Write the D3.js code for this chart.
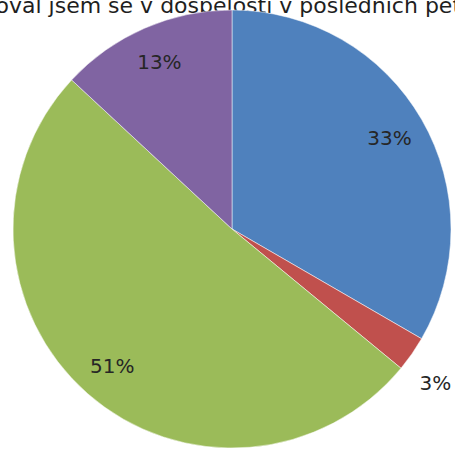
<!DOCTYPE html>
<html>
<head>
<meta charset="utf-8">
<script src="https://cdn.jsdelivr.net/npm/d3@7"></script>
<style>
  body { margin: 0; background: #fff; }
  svg { display: block; font-family: "DejaVu Sans", Verdana, sans-serif; }
</style>
</head>
<body>
<svg id="chart" width="455" height="450"></svg>
<script>
  // values (share of answers, %)
  var categories = ["Ano, opakovaně", "Ano, jednou", "Ne", "Nevím"];
  var values = [33.35, 2.62, 50.95, 13.08];
  var colors = ["#4F81BD", "#C0504D", "#9BBB59", "#8064A2"];
  var outsideLabel = [false, true, false, false];
  var title = "Školoval jsem se v dospělosti v posledních pěti letech";

  var width = 455, height = 450,
      cx = 232, cy = 229, radius = 219;

  var svg = d3.select("#chart");

  // title sits partly above the top edge, as in the source picture
  svg.append("text")
    .attr("x", cx + 14)
    .attr("y", 13)
    .attr("text-anchor", "middle")
    .attr("font-size", 22)
    .attr("fill", "#1f1f1f")
    .text(title);

  var data = categories.map(function(c, i) {
    return { name: c, value: values[i], color: colors[i], outside: outsideLabel[i] };
  });

  var pie = d3.pie()
    .sort(null)
    .value(function(d) { return d.value; });

  var arc = d3.arc().innerRadius(0).outerRadius(radius);
  var inLabel = d3.arc().innerRadius(radius * 0.83).outerRadius(radius * 0.83);
  var outLabel = d3.arc().innerRadius(radius * 1.13).outerRadius(radius * 1.13);

  var total = d3.sum(values);
  var g = svg.append("g").attr("transform", "translate(" + cx + "," + cy + ")");
  var arcs = pie(data);

  g.selectAll("path")
    .data(arcs)
    .enter().append("path")
      .attr("d", arc)
      .attr("fill", function(d) { return d.data.color; })
      .attr("stroke", "#fff")
      .attr("stroke-width", 0.5);

  g.selectAll("text.lbl")
    .data(arcs)
    .enter().append("text")
      .attr("class", "lbl")
      .attr("transform", function(d) {
        return "translate(" + (d.data.outside ? outLabel : inLabel).centroid(d) + ")";
      })
      .attr("dy", function(d) { return d.data.outside ? "1em" : "0.35em"; })
      .attr("text-anchor", "middle")
      .attr("font-size", 20)
      .attr("fill", "#262626")
      .text(function(d) { return Math.round(d.data.value / total * 100) + "%"; });
</script>
</body>
</html>
